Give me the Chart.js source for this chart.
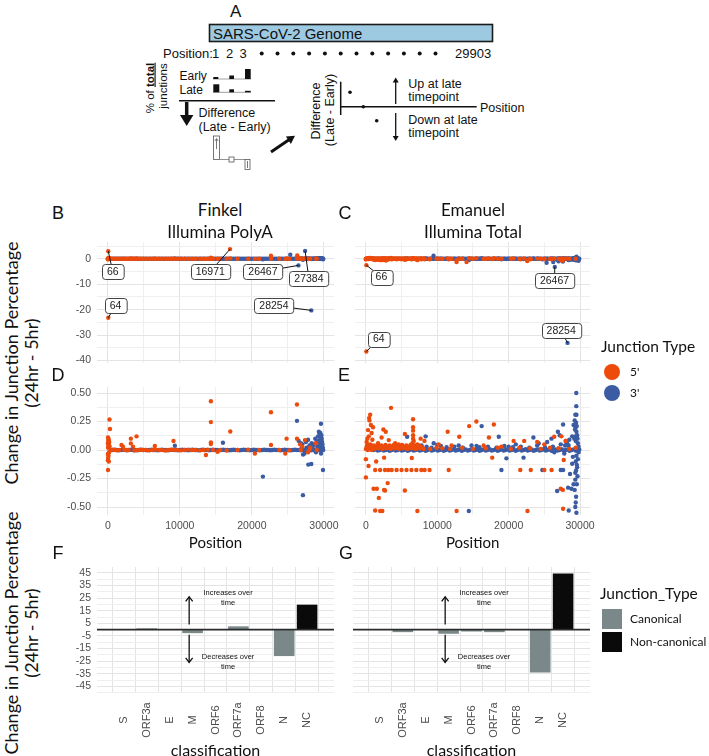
<!DOCTYPE html>
<html>
<head>
<meta charset="utf-8">
<script src="https://cdn.jsdelivr.net/npm/chart.js@4.4.1/dist/chart.umd.min.js"></script>
<style>
  body { margin: 0; width: 709px; height: 756px; overflow: hidden; background: #fff; position: relative;
         font-family: "Liberation Sans", Arial, sans-serif; color: #111; }
  canvas { position: absolute; }
  .t { position: absolute; white-space: nowrap; line-height: 1; transform: translate(-50%, -50%); }
  .lato { font-family: Lato, sans-serif; }
  .rot { transform: translate(-50%, -50%) rotate(-90deg); }
  .tag { font-size: 18px; }
  .dot { position: absolute; width: 16px; height: 16px; border-radius: 50%; }
  .sq { position: absolute; width: 20px; height: 20px; }
</style>
</head>
<body>

<svg width="709" height="175" style="position:absolute;left:0;top:0" font-family="Liberation Sans, Arial, sans-serif" fill="#111">
  <text x="230" y="17" font-size="17">A</text>
  <rect x="209.5" y="24.5" width="283" height="17" fill="#9ecae1" stroke="#1a1a1a" stroke-width="1.6"/>
  <text x="213" y="38.5" font-size="15">SARS-CoV-2 Genome</text>
  <text x="163" y="57.5" font-size="13">Position:</text>
  <text x="212" y="57.5" font-size="13">1</text>
  <text x="226" y="57.5" font-size="13">2</text>
  <text x="239.5" y="57.5" font-size="13">3</text>
  <g id="dots"></g>
  <text x="455" y="57.5" font-size="13">29903</text>
  <text transform="translate(153.5,88) rotate(-90)" text-anchor="middle" font-size="11.5">% of <tspan font-weight="bold" text-decoration="underline">total</tspan></text>
  <text transform="translate(166.5,86) rotate(-90)" text-anchor="middle" font-size="11.5">junctions</text>
  <text x="179.5" y="80" font-size="12">Early</text>
  <text x="179.5" y="94" font-size="12">Late</text>
  <line x1="213" y1="79" x2="251" y2="79" stroke="#888" stroke-width="0.8"/>
  <rect x="213.3" y="77" width="5" height="2" fill="#111"/>
  <rect x="229.3" y="75.5" width="4.7" height="3.5" fill="#111"/>
  <rect x="245" y="69" width="5.7" height="10" fill="#111"/>
  <line x1="213" y1="92.3" x2="251" y2="92.3" stroke="#888" stroke-width="0.8"/>
  <rect x="213.3" y="84.3" width="6" height="8" fill="#111"/>
  <rect x="229.3" y="89.3" width="4.7" height="3" fill="#111"/>
  <rect x="245" y="90.8" width="5.7" height="1.5" fill="#111"/>
  <line x1="179" y1="100.7" x2="275" y2="100.7" stroke="#111" stroke-width="1.5"/>
  <line x1="186.7" y1="102" x2="186.7" y2="116" stroke="#111" stroke-width="3.5"/>
  <polygon points="180,115 193.4,115 186.7,126" fill="#111"/>
  <text x="198.5" y="116.5" font-size="12.5">Difference</text>
  <text x="198.5" y="130.5" font-size="12.5">(Late - Early)</text>
  <rect x="213.5" y="136" width="6" height="23.5" fill="none" stroke="#555" stroke-width="0.8"/>
  <line x1="216.5" y1="149" x2="216.5" y2="139" stroke="#555" stroke-width="0.8"/>
  <polyline points="214.8,141 216.5,138.5 218.2,141" fill="none" stroke="#555" stroke-width="0.8"/>
  <line x1="219.5" y1="159.5" x2="245" y2="159.5" stroke="#777" stroke-width="0.8"/>
  <rect x="229" y="157" width="5" height="5" fill="#fff" stroke="#555" stroke-width="0.8"/>
  <rect x="245" y="159.5" width="5" height="10" fill="none" stroke="#555" stroke-width="0.8"/>
  <line x1="247.5" y1="161" x2="247.5" y2="168" stroke="#555" stroke-width="0.8"/>
  <line x1="271" y1="152" x2="289" y2="139.7" stroke="#111" stroke-width="3"/>
  <polygon points="295,135.8 290.9,144 285.9,136.6" fill="#111"/>
  <text transform="translate(320,111) rotate(-90)" text-anchor="middle" font-size="12.5">Difference</text>
  <text transform="translate(334,110) rotate(-90)" text-anchor="middle" font-size="12.5">(Late - Early)</text>
  <line x1="340.7" y1="81.7" x2="340.7" y2="115" stroke="#111" stroke-width="1.5"/>
  <line x1="340.7" y1="106.7" x2="476.7" y2="106.7" stroke="#111" stroke-width="1.5"/>
  <text x="480" y="112" font-size="12.5">Position</text>
  <circle cx="350" cy="92.3" r="1.8"/>
  <circle cx="363.3" cy="106.7" r="1.8"/>
  <circle cx="376.7" cy="120.7" r="1.8"/>
  <line x1="395.7" y1="104" x2="395.7" y2="81" stroke="#111" stroke-width="1.3"/>
  <polygon points="392.7,82.5 398.7,82.5 395.7,77.5"/>
  <line x1="395.7" y1="113" x2="395.7" y2="137" stroke="#111" stroke-width="1.3"/>
  <polygon points="392.7,136 398.7,136 395.7,141"/>
  <text x="408.3" y="88" font-size="12.5">Up at late</text>
  <text x="408.3" y="101" font-size="12.5">timepoint</text>
  <text x="408.3" y="123.5" font-size="12.5">Down at late</text>
  <text x="408.3" y="136.5" font-size="12.5">timepoint</text>
</svg>

<canvas id="cB"></canvas>
<canvas id="cC"></canvas>
<canvas id="cD"></canvas>
<canvas id="cE"></canvas>
<canvas id="cF"></canvas>
<canvas id="cG"></canvas>

<div class="t tag" style="left:58px;top:213px">B</div>
<div class="t tag" style="left:345px;top:213px">C</div>
<div class="t tag" style="left:58px;top:375px">D</div>
<div class="t tag" style="left:344px;top:375px">E</div>
<div class="t tag" style="left:58px;top:553px">F</div>
<div class="t tag" style="left:346px;top:553px">G</div>

<div class="t lato" style="left:220px;top:209px;font-size:17px">Finkel</div>
<div class="t lato" style="left:220px;top:231px;font-size:17px">Illumina PolyA</div>
<div class="t lato" style="left:473px;top:209px;font-size:17px">Emanuel</div>
<div class="t lato" style="left:473px;top:231px;font-size:17px">Illumina Total</div>

<div class="t lato rot" style="left:11px;top:363px;font-size:18px">Change in Junction Percentage</div>
<div class="t lato rot" style="left:31px;top:363px;font-size:18px">(24hr - 5hr)</div>
<div class="t lato rot" style="left:11px;top:633px;font-size:18px">Change in Junction Percentage</div>
<div class="t lato rot" style="left:31px;top:633px;font-size:18px">(24hr - 5hr)</div>

<div class="t lato" style="left:601px;top:347px;font-size:15.5px;transform:translate(0,-50%)">Junction Type</div>
<div class="dot" id="lg5" style="left:604px;top:364px"></div>
<div class="t lato" style="left:630px;top:372px;font-size:12px;transform:translate(0,-50%)">5'</div>
<div class="dot" id="lg3" style="left:604px;top:385px"></div>
<div class="t lato" style="left:630px;top:393px;font-size:12px;transform:translate(0,-50%)">3'</div>

<div class="t lato" style="left:600px;top:594px;font-size:15.5px;transform:translate(0,-50%)">Junction_Type</div>
<div class="sq" id="lgCan" style="left:602px;top:609px"></div>
<div class="t lato" style="left:630px;top:619px;font-size:12px;transform:translate(0,-50%)">Canonical</div>
<div class="sq" id="lgNon" style="left:602px;top:632px"></div>
<div class="t lato" style="left:630px;top:642px;font-size:12px;transform:translate(0,-50%)">Non-canonical</div>

<script>
// ---- data: [position, change] pairs ----
const finkel5 = [
  [66, 3.0], [64, -23.2], [16971, 3.8], [22650, 1.2], [26300, 1.3],
  [240, 0.268], [300, 0.184], [30, 0.11], [120, 0.095], [60, 0.08], [200, 0.07], [20, 0.06],
  [150, 0.05], [90, 0.04], [250, 0.03], [40, 0.02], [180, -0.02], [10, -0.035], [100, -0.05],
  [50, -0.07], [20, -0.09], [140, -0.1], [30, -0.175],
  [1900, 0.044], [2100, 0.03], [3200, 0.1], [3200, 0.058], [3990, 0.12], [3500, 0.03],
  [6530, 0.035], [9120, 0.079], [13620, -0.044], [14310, 0.428], [14310, 0.245],
  [14310, 0.067], [14310, 0.052], [17000, 0.163], [15240, -0.015], [20420, -0.03],
  [22650, 0.332], [22650, 0.044], [24640, -0.03], [24820, 0.1], [26260, 0.4], [26260, 0.1],
  [27370, 0.087], [27000, 0.03], [28100, 0.02], [26700, 0.05], [27800, -0.02], [28900, 0.06],
  [400, 0], [700, 0.004], [1000, 0], [1300, -0.003], [1600, 0], [2300, 0.003], [2600, 0], [2900, 0],
  [3700, -0.004], [4100, 0], [4500, 0.003], [4900, 0], [5300, 0], [5800, -0.003], [6200, 0],
  [6600, 0.004], [7100, 0], [7500, 0], [8000, -0.004], [8400, 0], [8800, 0.003], [9300, 0],
  [9700, 0], [10200, -0.003], [10700, 0], [11200, 0.004], [11700, 0], [12200, 0], [12800, -0.003],
  [13300, 0], [13900, 0.003], [14600, 0], [15600, 0], [16500, -0.004], [18000, 0], [19500, 0.003],
  [21000, 0], [23800, 0], [25200, -0.003], [26800, 0], [28000, 0.004], [29000, 0]
];

const finkel3 = [
  [26467, -2.6], [27384, 3.1], [28254, -20.3], [25330, 1.6],
  [9310, 0.038], [15980, 0.064], [21530, -0.233], [26260, 0.256], [27090, -0.396],
  [27830, -0.128], [28250, -0.122], [29870, -0.175], [29590, 0.23],
  [26500, 0.08], [26800, 0.06], [27000, 0.05], [27500, 0.07], [27800, 0.09], [28000, 0.04],
  [28300, 0.06], [28600, 0.05], [28800, 0.1], [29000, 0.08], [29200, 0.12], [29300, 0.16],
  [29400, 0.14], [29500, 0.15], [29650, 0.13], [29700, 0.1], [29750, 0.07], [29800, 0.05],
  [29350, 0.06], [29450, 0.09], [29550, 0.03], [29850, 0.02], [27100, -0.04], [27300, -0.03],
  [28900, -0.02], [29600, -0.03], [29100, 0.03], [27600, 0.02], [26900, 0.015], [28450, 0.03],
  [700, 0], [980, 0.003], [1250, 0], [1540, -0.003], [1820, 0], [2100, 0.002], [2390, 0],
  [2660, -0.002], [2950, 0], [3230, 0.003], [3520, 0], [3800, 0], [4090, -0.003], [4370, 0],
  [4650, 0.002], [4940, 0], [5220, 0], [5510, -0.002], [5790, 0], [6080, 0.003], [6360, 0],
  [6640, 0], [6930, -0.003], [7210, 0], [7500, 0.002], [7780, 0], [8070, 0], [8350, -0.002],
  [8640, 0], [8920, 0.003], [9200, 0], [9490, 0], [9770, -0.003], [10060, 0], [10340, 0.002],
  [10630, 0], [10910, 0], [11190, -0.002], [11480, 0], [11760, 0.003], [12050, 0], [12330, 0],
  [12620, -0.003], [12900, 0], [13180, 0.002], [13470, 0], [13750, 0], [14040, -0.002],
  [14320, 0], [14610, 0.003], [14890, 0], [15170, 0], [15460, -0.003], [15740, 0], [16030, 0.002],
  [16310, 0], [16600, 0], [16880, -0.002], [17160, 0], [17450, 0.003], [17730, 0], [18020, 0],
  [18300, -0.003], [18590, 0], [18870, 0.002], [19150, 0], [19440, 0], [19720, -0.002],
  [20010, 0], [20290, 0.003], [20580, 0], [20860, 0], [21140, -0.003], [21430, 0], [21710, 0.002],
  [22000, 0], [22280, 0], [22570, -0.002], [22850, 0], [23130, 0.003], [23420, 0], [23700, 0],
  [23990, -0.003], [24270, 0], [24560, 0.002], [24840, 0], [25120, 0], [25410, -0.002],
  [25690, 0], [25980, 0.003], [26260, 0], [26550, 0], [26830, -0.003], [27120, 0], [27400, 0.002],
  [27690, 0], [27970, 0], [28250, -0.002], [28540, 0], [28820, 0.003], [29110, 0], [29390, 0],
  [29680, -0.003], [29900, 0]
];

const emanuel5 = [
  [66, -2.5], [64, -36.5], [12700, -1.3], [14100, -1.3], [22600, -0.9], [2800, -0.7], [27500, -0.8],
  [3520, 0.37], [600, 0.31], [500, 0.26], [700, 0.22], [300, 0.175], [800, 0.15], [400, 0.12],
  [200, 0.1], [900, 0.09], [100, 0.07], [600, 0.05], [1000, 0.2], [450, 0.28], [150, 0.04], [750, 0.03],
  [2450, 0.18], [2780, 0.16], [2200, 0.11], [3200, 0.087], [1700, 0.06], [4100, 0.06], [4600, 0.05],
  [5460, 0.14], [6610, 0.27], [6610, 0.2], [6610, 0.17], [6610, 0.13], [6610, 0.1], [6500, 0.06],
  [6700, 0.08], [7670, 0.1], [8200, 0.08], [7200, 0.05],
  [11460, 0.16], [13080, 0.117], [14470, 0.21], [15480, 0.25], [17930, 0.224], [17240, 0.11],
  [20700, 0.08], [22180, 0.08], [24000, 0.07], [26390, 0.117], [27400, 0.12], [28000, 0.08],
  [10200, 0.05], [12000, 0.04], [16500, 0.04], [19000, 0.03], [25000, 0.05],
  [0, -0.08], [370, -0.14], [0, -0.24], [1440, -0.1], [2550, -0.067], [17700, -0.067], [6430, -0.07],
  [3050, -0.29], [1070, -0.34], [1530, -0.34], [2550, -0.35], [2680, -0.355], [5460, -0.355],
  [1810, -0.42], [1300, -0.53], [2000, -0.535], [2300, -0.535], [7210, -0.535], [12710, -0.535],
  [22640, -0.535], [27630, -0.515], [27720, -0.087], [27300, -0.34], [27600, -0.35],
  [1300, -0.175], [1990, -0.175], [2680, -0.175], [3150, -0.175], [3610, -0.175], [4300, -0.175],
  [4990, -0.175], [5690, -0.175], [6380, -0.175], [7070, -0.175], [7770, -0.175], [8230, -0.175],
  [8920, -0.175], [11600, -0.175], [21630, -0.175], [23100, -0.175], [25000, -0.175], [26020, -0.175],
  [0, 0.01], [120, 0.03], [250, 0], [380, 0.045], [500, 0.015], [640, 0.035], [770, 0], [900, 0.025],
  [1050, 0.04], [1180, 0.01], [1320, 0.03], [1460, 0.02], [1600, 0.045], [1740, 0.015], [1880, 0.03],
  [2020, 0.02], [2170, 0.04], [2310, 0.01], [2460, 0.03], [2600, 0.02], [2750, 0.045], [2890, 0.015],
  [3040, 0.03], [3180, 0.02], [3330, 0.04], [3480, 0.01], [3620, 0.03], [3770, 0.025], [3910, 0.045],
  [4060, 0.015], [4200, 0.03], [4350, 0.02], [4500, 0.04], [4640, 0.01], [4790, 0.03], [4930, 0.025],
  [5080, 0.045], [5230, 0.015], [5370, 0.03], [5520, 0.02], [5660, 0.04], [5810, 0.01], [5960, 0.03],
  [6100, 0.02], [6250, 0.045], [6400, 0.015], [6540, 0.03], [6690, 0.02], [6830, 0.04], [6980, 0.01],
  [7130, 0.03], [7280, 0.02], [7430, 0.04], [7580, 0.015], [7730, 0.03], [7900, 0.02], [8100, 0.01],
  [9000, 0.01], [9900, 0.02], [10700, 0.015], [11800, 0.01], [13500, 0.02], [15000, 0.01],
  [16800, 0.015], [18500, 0.02], [20300, 0.01], [21500, 0.02], [23000, 0.015], [24500, 0.01],
  [25800, 0.02], [27000, 0.015], [28500, 0.01], [29400, 0.02]
];

const emanuel3 = [
  [26467, -3.2], [28254, -33.1], [9480, 1.2], [25320, -1.6], [26250, -1.3], [27000, -1.0],
  [27600, -1.1], [29500, 0.8], [29800, -0.8],
  [29480, 0.5], [29480, 0.385], [29350, 0.31], [29500, 0.31], [29250, 0.26], [27630, 0.224],
  [29100, 0.22], [29400, 0.2], [29300, 0.18], [29500, 0.16], [29600, 0.13], [29200, 0.1],
  [29400, 0.08], [29700, 0.06], [28900, 0.12], [28500, 0.09], [28200, 0.06], [27900, 0.04],
  [29800, 0.03], [29450, 0.24], [29550, 0.21], [29650, 0.1], [29350, 0.12],
  [16220, 0.21], [18620, 0.117], [23470, 0.11], [8370, 0.12], [5780, 0.117], [26000, 0.1],
  [26900, 0.16], [27150, 0.13], [28000, 0.08], [25400, 0.07], [24200, 0.06], [21000, 0.05],
  [13000, 0.04], [10000, 0.045], [20000, 0.03], [15500, 0.035], [9500, 0.06], [7800, 0.04],
  [19690, -0.073], [22090, -0.067], [18990, -0.175], [24720, -0.175], [27300, -0.175],
  [27630, -0.175], [26800, -0.36], [28330, -0.33], [28800, -0.34], [29250, -0.35], [29340, -0.26],
  [29340, -0.2], [29400, -0.1], [29500, -0.05], [14420, -0.535], [28420, -0.53], [29340, -0.5],
  [29400, -0.46], [29500, -0.55], [29450, -0.41], [29100, -0.3], [28600, -0.21], [29600, -0.15],
  [29700, -0.08], [28900, -0.12], [29000, -0.06], [29550, -0.3], [29650, -0.23], [29800, -0.02],
  [27800, -0.03], [26400, -0.02], [29450, -0.18], [29550, -0.13],
  [8500, 0.03], [9200, 0.02], [10500, 0.035], [11300, 0.025], [12400, 0.03], [13600, 0.02],
  [14800, 0.04], [15900, 0.025], [17100, 0.03], [18300, 0.02], [19400, 0.035], [20600, 0.025],
  [21700, 0.03], [22900, 0.02], [24000, 0.04], [25100, 0.025], [26200, 0.03], [27300, 0.05],
  [28400, 0.04],
  [1100, 0], [1380, 0.006], [1660, -0.005], [1940, 0], [2220, 0.007], [2500, -0.004], [2780, 0],
  [3060, 0.005], [3340, -0.006], [3620, 0], [3900, 0.006], [4180, -0.005], [4460, 0], [4740, 0.007],
  [5020, -0.004], [5300, 0], [5580, 0.005], [5860, -0.006], [6140, 0], [6420, 0.006], [6700, -0.005],
  [6980, 0], [7260, 0.007], [7540, -0.004], [7820, 0], [8100, 0.005], [8380, -0.006], [8660, 0],
  [8940, 0.006], [9220, -0.005], [9500, 0], [9780, 0.007], [10060, -0.004], [10340, 0],
  [10620, 0.005], [10900, -0.006], [11180, 0], [11460, 0.006], [11740, -0.005], [12020, 0],
  [12300, 0.007], [12580, -0.004], [12860, 0], [13140, 0.005], [13420, -0.006], [13700, 0],
  [13980, 0.006], [14260, -0.005], [14540, 0], [14820, 0.007], [15100, -0.004], [15380, 0],
  [15660, 0.005], [15940, -0.006], [16220, 0], [16500, 0.006], [16780, -0.005], [17060, 0],
  [17340, 0.007], [17620, -0.004], [17900, 0], [18180, 0.005], [18460, -0.006], [18740, 0],
  [19020, 0.006], [19300, -0.005], [19580, 0], [19860, 0.007], [20140, -0.004], [20420, 0],
  [20700, 0.005], [20980, -0.006], [21260, 0], [21540, 0.006], [21820, -0.005], [22100, 0],
  [22380, 0.007], [22660, -0.004], [22940, 0], [23220, 0.005], [23500, -0.006], [23780, 0],
  [24060, 0.006], [24340, -0.005], [24620, 0], [24900, 0.007], [25180, -0.004], [25460, 0],
  [25740, 0.005], [26020, -0.006], [26300, 0], [26580, 0.006], [26860, -0.005], [27140, 0],
  [27420, 0.007], [27700, -0.004], [27980, 0], [28260, 0.005], [28540, -0.006], [28820, 0],
  [29100, 0.006], [29380, -0.005], [29660, 0], [29900, 0.004]
];

const finkelLabelled = [66, 16971, 26467, 27384, 64, 28254];
const emanuelLabelled = [66, 26467, 64, 28254];

const classes = ['S', 'ORF3a', 'E', 'M', 'ORF6', 'ORF7a', 'ORF8', 'N', 'NC'];
const finkelCanonical = [0, 1.0, 0, -2.8, 0, 2.6, 0, -21, null];
const finkelNonCanonical = [null, null, null, null, null, null, null, null, 19.8];
const emanuelCanonical = [0, -2.0, 0, -3.3, -1.5, -2.0, 0, -34, null];
const emanuelNonCanonical = [null, null, null, null, null, null, null, null, 44.5];

const posTicks = [0, 5000, 10000, 15000, 20000, 25000, 30000];
const wideTicks = [-40, -35, -30, -25, -20, -15, -10, -5, 0, 5];
const zoomTicks = [-0.5, -0.375, -0.25, -0.125, 0, 0.125, 0.25, 0.375, 0.5];
const barTicks = [-50, -45, -40, -35, -30, -25, -20, -15, -10, -5, 0, 5, 10, 15, 20, 25, 30, 35, 40, 45];

// ---- look ----
const ORANGE = '#ec4b0c';
const BLUE = '#3b5ba3';
const CANON = '#7a8889';
const NONCANON = '#0a0a0a';
const GRID_MAJOR = '#e4e4e4';
const GRID_MINOR = '#efefef';
const PAD = {top: 14, right: 20, bottom: 0, left: 0};

Chart.defaults.font.family = '"Liberation Sans", Arial, sans-serif';
Chart.defaults.font.size = 10.5;
Chart.defaults.color = '#4d4d4d';

document.getElementById('lg5').style.background = ORANGE;
document.getElementById('lg3').style.background = BLUE;
document.getElementById('lgCan').style.background = CANON;
document.getElementById('lgNon').style.background = NONCANON;
const dotsG = document.getElementById('dots');
for (let i = 0; i < 12; i++) {
  const c = document.createElementNS('http://www.w3.org/2000/svg', 'circle');
  c.setAttribute('cx', 261.7 + i * 15.8); c.setAttribute('cy', 53.5); c.setAttribute('r', 2);
  dotsG.appendChild(c);
}

// plot areas in page pixels
const boxes = {
  B: {x: 97, y: 242, w: 237, h: 121, yW: 45, xH: 14},
  C: {x: 353, y: 242, w: 237, h: 121, yW: 0, xH: 14},
  D: {x: 97, y: 387, w: 237, h: 128, yW: 45, xH: 37},
  E: {x: 353, y: 387, w: 237, h: 128, yW: 0, xH: 37},
  F: {x: 97, y: 567, w: 237, h: 126, yW: 45, xH: 67},
  G: {x: 353, y: 567, w: 237, h: 126, yW: 0, xH: 67}
};

function setupCanvas(id, b) {
  const c = document.getElementById(id);
  c.width = b.yW + b.w + PAD.right;
  c.height = PAD.top + b.h + b.xH;
  c.style.left = (b.x - b.yW) + 'px';
  c.style.top = (b.y - PAD.top) + 'px';
  return c;
}

const toXY = (pts) => pts.map(([x, y]) => ({x, y}));
const fixTicks = (vals) => (s) => { s.ticks = vals.map((v) => ({value: v})); };
const near = (a, b) => Math.abs(a - b) < 1e-9;

// labelled points with boxes (like ggrepel)
const repelPlugin = {
  id: 'repel',
  afterDatasetsDraw(chart, args, opts) {
    if (!opts.labelled) return;
    const {ctx, scales: {x, y}} = chart;
    ctx.save();
    ctx.font = '10.5px "Liberation Sans", Arial, sans-serif';
    for (const pos of opts.labelled) {
      const hit = opts.series.flat().find((p) => p[0] === pos);
      const [dx, dy] = opts.offsets[pos];
      const px = x.getPixelForValue(hit[0]), py = y.getPixelForValue(hit[1]);
      const bx = x.getPixelForValue(hit[0] + dx), by = y.getPixelForValue(hit[1] + dy);
      ctx.strokeStyle = '#111'; ctx.lineWidth = 1;
      ctx.beginPath(); ctx.moveTo(px, py); ctx.lineTo(bx, by); ctx.stroke();
      const txt = String(pos);
      const w = ctx.measureText(txt).width + 10, h = 15;
      ctx.beginPath();
      ctx.roundRect(Math.round(bx - w / 2) + 0.5, Math.round(by - h / 2) + 0.5, w, h, 3);
      ctx.fillStyle = '#fff'; ctx.fill();
      ctx.strokeStyle = '#444'; ctx.stroke();
      ctx.fillStyle = '#222'; ctx.textAlign = 'center'; ctx.textBaseline = 'middle';
      ctx.fillText(txt, bx, by + 0.5);
    }
    ctx.restore();
  }
};

function scatterPanel(id, b, pts5, pts3, yMin, yMax, yTicks, yMajor, yFmt, showY, showX, repel) {
  const c = setupCanvas(id, b);
  return new Chart(c, {
    type: 'scatter',
    data: {
      datasets: [
        {label: "5'", data: toXY(pts5), backgroundColor: ORANGE, borderColor: ORANGE,
         pointRadius: 2.2, pointHoverRadius: 2.2, pointBorderWidth: 0},
        {label: "3'", data: toXY(pts3), backgroundColor: BLUE, borderColor: BLUE,
         pointRadius: 2.2, pointHoverRadius: 2.2, pointBorderWidth: 0}
      ]
    },
    options: {
      responsive: false, animation: false, events: [],
      layout: {padding: PAD},
      plugins: {legend: {display: false}, tooltip: {enabled: false}, repel: repel || {}},
      scales: {
        x: {
          type: 'linear', min: -1500, max: 31400,
          afterBuildTicks: fixTicks(posTicks),
          afterFit: (s) => { s.height = b.xH; },
          border: {display: false},
          grid: {drawTicks: false, color: (ctx) => ctx.tick && ctx.tick.value % 10000 === 0 ? GRID_MAJOR : GRID_MINOR},
          ticks: {display: showX, autoSkip: false, maxRotation: 0, padding: 5,
                  callback: (v) => v % 10000 === 0 ? String(v) : ''},
          title: {display: showX, text: 'Position', color: '#111', padding: 0,
                  font: {family: 'Lato', size: 15}}
        },
        y: {
          type: 'linear', min: yMin, max: yMax,
          afterBuildTicks: fixTicks(yTicks),
          afterFit: (s) => { s.width = b.yW; },
          border: {display: false},
          grid: {drawTicks: false, color: (ctx) => ctx.tick && yMajor(ctx.tick.value) ? GRID_MAJOR : GRID_MINOR},
          ticks: {display: showY, autoSkip: false, padding: 6,
                  callback: (v) => yMajor(v) ? yFmt(v) : ''}
        }
      }
    },
    plugins: [repelPlugin]
  });
}

// zero line, arrows and notes on the bar panels
function drawArrow(ctx, x, y1, y2) {
  const dir = y2 < y1 ? -1 : 1;
  ctx.beginPath(); ctx.moveTo(x, y1); ctx.lineTo(x, y2); ctx.stroke();
  ctx.beginPath();
  ctx.moveTo(x - 3.5, y2 - dir * 4.5); ctx.lineTo(x, y2); ctx.lineTo(x + 3.5, y2 - dir * 4.5);
  ctx.stroke();
}

const timePlugin = {
  id: 'timeArrows',
  afterDatasetsDraw(chart, args, o) {
    const {ctx, chartArea: a, scales: {x, y}} = chart;
    ctx.save();
    const y0 = y.getPixelForValue(0);
    ctx.strokeStyle = '#2a2a2a'; ctx.lineWidth = 1.6;
    ctx.beginPath(); ctx.moveTo(a.left, y0); ctx.lineTo(a.right, y0); ctx.stroke();
    const ax = x.getPixelForValue(o.arrowAt);
    ctx.strokeStyle = '#111'; ctx.lineWidth = 1.3;
    drawArrow(ctx, ax, y.getPixelForValue(o.arrowFrom), y.getPixelForValue(o.arrowTo));
    drawArrow(ctx, ax, y.getPixelForValue(-o.arrowFrom), y.getPixelForValue(-o.arrowTo));
    const tx = x.getPixelForValue(o.textAt);
    ctx.fillStyle = '#111'; ctx.textAlign = 'center'; ctx.textBaseline = 'middle';
    ctx.font = '7.5px "Liberation Sans", Arial, sans-serif';
    ctx.fillText('Increases over', tx, y.getPixelForValue(28.8));
    ctx.fillText('time', tx, y.getPixelForValue(20.9));
    ctx.fillText('Decreases over', tx, y.getPixelForValue(-22));
    ctx.fillText('time', tx, y.getPixelForValue(-30));
    ctx.restore();
  },
  afterDraw(chart) {
    const {ctx, chartArea: a, scales: {x}} = chart;
    ctx.save();
    ctx.font = '11px "Liberation Sans", Arial, sans-serif';
    ctx.fillStyle = '#4d4d4d'; ctx.textAlign = 'center'; ctx.textBaseline = 'middle';
    classes.forEach((name, i) => {
      ctx.save();
      ctx.translate(x.getPixelForValue(i + 1), a.bottom + 27);
      ctx.rotate(-Math.PI / 2);
      ctx.fillText(name, 0, 0);
      ctx.restore();
    });
    ctx.restore();
  }
};

const toBars = (vals) => vals.map((v, i) => (v === null ? null : {x: i + 1, y: v})).filter(Boolean);

function barPanel(id, b, canon, nonCanon, showY) {
  const c = setupCanvas(id, b);
  const common = {grouped: false, categoryPercentage: 1, barPercentage: 0.9, borderWidth: 0};
  return new Chart(c, {
    type: 'bar',
    data: {
      datasets: [
        Object.assign({label: 'Canonical', data: toBars(canon), backgroundColor: CANON}, common),
        Object.assign({label: 'Non-canonical', data: toBars(nonCanon), backgroundColor: NONCANON}, common)
      ]
    },
    options: {
      responsive: false, animation: false, events: [],
      layout: {padding: PAD},
      plugins: {legend: {display: false}, tooltip: {enabled: false},
                timeArrows: {arrowAt: 3.85, arrowFrom: 4, arrowTo: 26, textAt: 5.55}},
      scales: {
        x: {
          type: 'linear', min: 0.4, max: 9.6,
          afterBuildTicks: fixTicks(classes.map((_, i) => i + 1)),
          afterFit: (s) => { s.height = b.xH; },
          border: {display: false},
          grid: {drawTicks: false, color: GRID_MAJOR},
          ticks: {display: false},
          title: {display: true, text: 'classification', color: '#111', padding: 0,
                  font: {family: 'Lato', size: 16}}
        },
        y: {
          type: 'linear', min: -50.3, max: 49.7,
          afterBuildTicks: fixTicks(barTicks),
          afterFit: (s) => { s.width = b.yW; },
          border: {display: false},
          grid: {drawTicks: false, color: (ctx) => ctx.tick && Math.abs(ctx.tick.value) % 10 === 5 ? GRID_MAJOR : GRID_MINOR},
          ticks: {display: showY, autoSkip: false, padding: 6,
                  callback: (v) => Math.abs(v) % 10 === 5 ? String(v) : ''}
        }
      }
    },
    plugins: [timePlugin]
  });
}

const wideMajor = (v) => v % 10 === 0;
const zoomMajor = (v) => near(v * 4, Math.round(v * 4));

scatterPanel('cB', boxes.B, finkel5, finkel3, -41, 6.6, wideTicks, wideMajor, (v) => String(v), true, false,
  {labelled: finkelLabelled, series: [finkel5, finkel3],
   offsets: {66: [629, -8.2], 16971: [-2747, -8.8], 26467: [-4937, -2.4], 27384: [536, -11],
             64: [1006, 4.8], 28254: [-5194, 1.9]}});
scatterPanel('cC', boxes.C, emanuel5, emanuel3, -41, 6.6, wideTicks, wideMajor, (v) => String(v), false, false,
  {labelled: emanuelLabelled, series: [emanuel5, emanuel3],
   offsets: {66: [2110, -4.7], 26467: [-37, -5.4], 64: [1736, 4.9], 28254: [-894, 4.7]}});
scatterPanel('cD', boxes.D, finkel5, finkel3, -0.57, 0.553, zoomTicks, zoomMajor, (v) => v.toFixed(2), true, true);
scatterPanel('cE', boxes.E, emanuel5, emanuel3, -0.57, 0.553, zoomTicks, zoomMajor, (v) => v.toFixed(2), false, true);
barPanel('cF', boxes.F, finkelCanonical, finkelNonCanonical, true);
barPanel('cG', boxes.G, emanuelCanonical, emanuelNonCanonical, false);
</script>
</body>
</html>
